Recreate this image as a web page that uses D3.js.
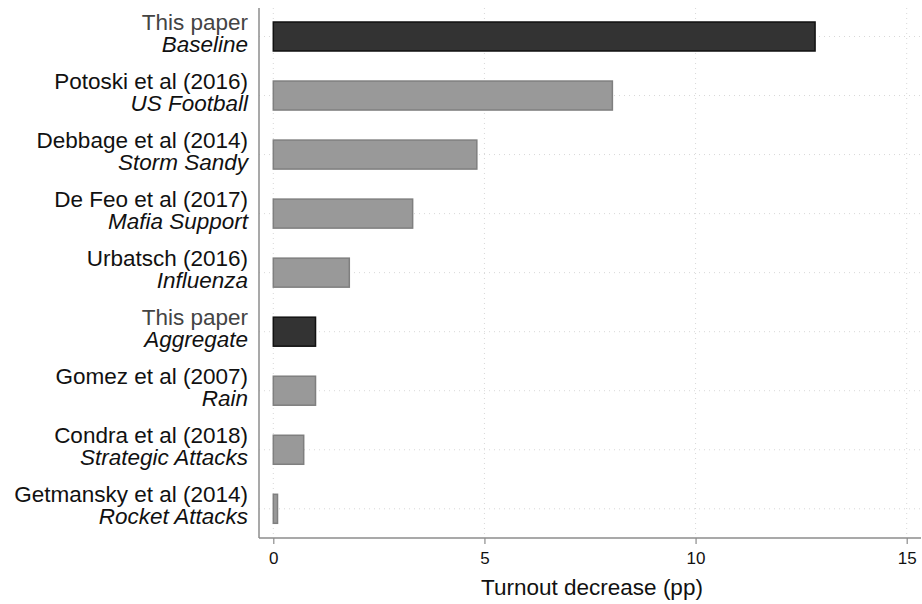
<!DOCTYPE html>
<html><head><meta charset="utf-8">
<script src="https://cdn.jsdelivr.net/npm/d3@7"></script>
<style>body{margin:0;background:#fff}svg{display:block}text{font-family:"Liberation Sans",Arial,sans-serif}</style>
</head><body>
<svg id="c" width="922" height="604"></svg>
<script>
const authors = ["This paper","Potoski et al (2016)","Debbage et al (2014)","De Feo et al (2017)","Urbatsch (2016)","This paper","Gomez et al (2007)","Condra et al (2018)","Getmansky et al (2014)"];
const topics = ["Baseline","US Football","Storm Sandy","Mafia Support","Influenza","Aggregate","Rain","Strategic Attacks","Rocket Attacks"];
const values = [12.83, 8.03, 4.82, 3.3, 1.8, 1.0, 1.0, 0.72, 0.1];
const isThisPaper = [true,false,false,false,false,true,false,false,false];
const xTicks = [0,5,10,15];
const xTitle = "Turnout decrease (pp)";

(function(){
const svg = d3.select("#c");
const idx = d3.range(values.length);
const x = d3.scaleLinear().domain([0,15]).range([273.3,906.7]);
const y = d3.scalePoint().domain(idx).range([36.5,508.8]);
const pLeft = 259, pBottom = 538, pTop = 8, pRight = 921;
const barH = 29;

const g = svg.append("g");
g.selectAll(".vg").data(xTicks).join("line")
  .attr("x1",d=>x(d)).attr("x2",d=>x(d)).attr("y1",pTop).attr("y2",pBottom)
  .attr("stroke","#d8d8d8").attr("stroke-width",1).attr("stroke-dasharray","1,4");
g.selectAll(".hg").data(idx).join("line")
  .attr("x1",pLeft).attr("x2",pRight).attr("y1",d=>y(d)).attr("y2",d=>y(d))
  .attr("stroke","#d8d8d8").attr("stroke-width",1).attr("stroke-dasharray","1,4");

svg.selectAll(".bar").data(idx).join("rect")
  .attr("x",x(0)).attr("y",d=>y(d)-barH/2)
  .attr("width",d=>x(values[d])-x(0)).attr("height",barH)
  .attr("fill",d=>isThisPaper[d]?"#333333":"#999999")
  .attr("stroke",d=>isThisPaper[d]?"#111111":"#7f7f7f")
  .attr("stroke-width",1.5);

svg.append("line").attr("x1",pLeft).attr("x2",pLeft).attr("y1",pTop).attr("y2",pBottom).attr("stroke","#8c8c8c").attr("stroke-width",1.5);
svg.append("line").attr("x1",pLeft).attr("x2",pRight).attr("y1",pBottom).attr("y2",pBottom).attr("stroke","#8c8c8c").attr("stroke-width",1.5);

const xa = svg.append("g").attr("transform",`translate(0,${pBottom})`)
  .call(d3.axisBottom(x).tickValues(xTicks).tickSize(6).tickPadding(7).tickFormat(d3.format("d")));
xa.select(".domain").remove();
xa.selectAll("line").attr("stroke","#8c8c8c").attr("stroke-width",1.2);
xa.selectAll("text").attr("font-size",17).attr("fill","#111").attr("dy",null).attr("y",25.5)
  .attr("font-family","Liberation Sans, Arial, sans-serif");

const lab = svg.selectAll(".lab").data(idx).join("g");
lab.append("text").attr("x",248).attr("y",d=>y(d)-6.5).attr("text-anchor","end")
  .attr("font-size",22.5).attr("fill",d=>isThisPaper[d]?"#444":"#111").text(d=>authors[d]);
lab.append("text").attr("x",248).attr("y",d=>y(d)+15.5).attr("text-anchor","end")
  .attr("font-size",22.5).attr("font-style","italic").attr("fill","#111").text(d=>topics[d]);

svg.append("text").attr("x",592).attr("y",595).attr("text-anchor","middle")
  .attr("font-size",22.5).attr("fill","#111").text(xTitle);
})();
</script>
</body></html>
